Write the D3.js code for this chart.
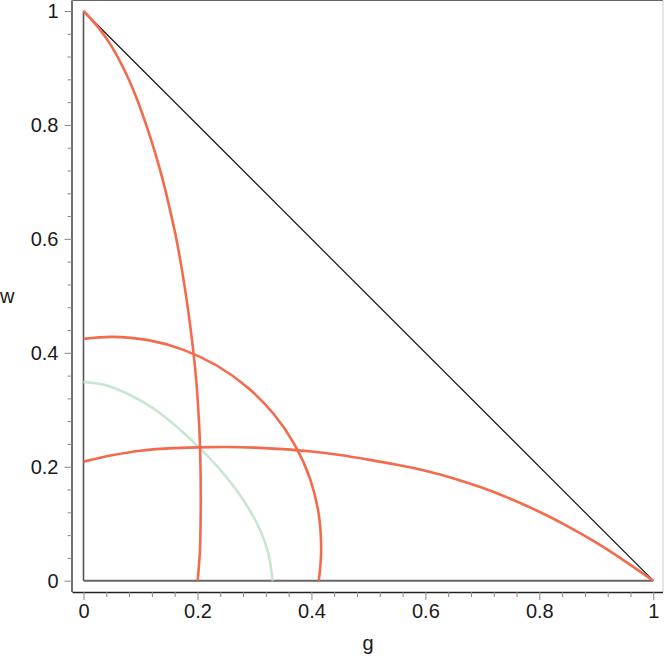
<!DOCTYPE html>
<html>
<head>
<meta charset="utf-8">
<script src="https://cdn.jsdelivr.net/npm/d3@7"></script>
<style>
html,body{margin:0;padding:0;background:#fff;}
svg{display:block;}
text{font-family:"Liberation Sans",Arial,Helvetica,sans-serif;fill:#1a1a1a;}
</style>
</head>
<body>
<svg id="chart" width="664" height="657"></svg>
<script>
// ---- data ----
const xTicks = [0, 0.2, 0.4, 0.6, 0.8, 1];
const yTicks = [0, 0.2, 0.4, 0.6, 0.8, 1];
const tickLabels = ["0", "0.2", "0.4", "0.6", "0.8", "1"];
const xLabel = "g";
const yLabel = "w";

// curve A: from (0,1) down to (0.2,0)   [g, w]
const curveA = [[0,1],[0.027,0.97],[0.048,0.94],[0.070,0.90],[0.092,0.85],[0.110,0.80],
  [0.126,0.75],[0.140,0.70],[0.152,0.65],[0.163,0.60],[0.172,0.55],[0.180,0.50],[0.187,0.45],
  [0.193,0.40],[0.198,0.35],[0.2015,0.30],[0.204,0.25],[0.2053,0.20],[0.2058,0.15],
  [0.2055,0.10],[0.2042,0.05],[0.2004,0]];
// curve B: arc from (0,0.425) to (0.413,0)
const curveB = [[0,0.4245],[0.05,0.428],[0.1137,0.4223],[0.1755,0.4052],[0.2345,0.3773],
  [0.2875,0.3396],[0.3335,0.293],[0.3705,0.239],[0.3975,0.1793],[0.4130,0.1156],
  [0.4170,0.05],[0.4130,0]];
// curve C: from (0,0.209) to (1,0)
const curveC = [[0,0.209],[0.05,0.2202],[0.10,0.2282],[0.15,0.2322],[0.20,0.2340],[0.25,0.2346],
  [0.30,0.2336],[0.35,0.2310],[0.40,0.2268],[0.45,0.2205],[0.50,0.2125],[0.55,0.2035],
  [0.60,0.1930],[0.65,0.1795],[0.70,0.1630],[0.75,0.1435],[0.80,0.1210],[0.85,0.0955],
  [0.90,0.0668],[0.95,0.0345],[1,0]];
// curve D (green): from (0,0.349) to (0.332,0)
const curveD = [[0,0.349],[0.0377,0.3435],[0.0816,0.326],[0.1225,0.3026],[0.1636,0.2703],
  [0.2045,0.2324],[0.2454,0.1885],[0.2805,0.1417],[0.31,0.089],[0.3243,0.048],[0.332,0]];

const redCurves = [curveA, curveB, curveC];
const greenCurves = [curveD];

// ---- drawing ----
const svg = d3.select("#chart");
const x = d3.scaleLinear().domain([0,1]).range([83.5,653.3]);
const y = d3.scaleLinear().domain([0,1]).range([580.7,11]);

const frame = {left:72.5, right:663, top:0.5, bottom:592};

// frame
svg.append("line").attr("x1",frame.left).attr("x2",frame.right).attr("y1",frame.top).attr("y2",frame.top)
  .attr("stroke","#666").attr("stroke-width",1);
svg.append("line").attr("x1",frame.right).attr("x2",frame.right).attr("y1",frame.top).attr("y2",frame.bottom)
  .attr("stroke","#ccc").attr("stroke-width",1);

// axes
const minor = d3.range(0,1.0001,0.04).filter(v=>Math.abs(v*5-Math.round(v*5))>1e-6);
const xAxis = d3.axisBottom(x).tickValues(xTicks).tickSize(8).tickPadding(4)
  .tickFormat((d,i)=>tickLabels[i]);
const gx = svg.append("g").attr("transform",`translate(0,${frame.bottom})`).call(xAxis);
gx.select(".domain").attr("d",`M${frame.left},0.5H${frame.right}`).attr("stroke","#222").attr("stroke-width",1.3);
gx.selectAll(".tick line").attr("stroke","#888");
gx.selectAll(".tick text").attr("font-size",20).attr("fill","#1a1a1a").attr("font-family","Liberation Sans, Arial, sans-serif");
const gxm = svg.append("g").attr("transform",`translate(0,${frame.bottom})`)
  .call(d3.axisBottom(x).tickValues(minor).tickSize(5).tickFormat(""));
gxm.select(".domain").remove();
gxm.selectAll(".tick line").attr("stroke","#888");

const yAxis = d3.axisLeft(y).tickValues(yTicks).tickSize(8).tickPadding(6)
  .tickFormat((d,i)=>tickLabels[i]);
const gy = svg.append("g").attr("transform",`translate(${frame.left},0)`).call(yAxis);
gy.select(".domain").attr("d",`M-0.5,${frame.top}V${frame.bottom}`).attr("stroke","#222").attr("stroke-width",1.3);
gy.selectAll(".tick line").attr("stroke","#888");
gy.selectAll(".tick text").attr("font-size",20).attr("fill","#1a1a1a").attr("font-family","Liberation Sans, Arial, sans-serif");
const gym = svg.append("g").attr("transform",`translate(${frame.left},0)`)
  .call(d3.axisLeft(y).tickValues(minor).tickSize(5).tickFormat(""));
gym.select(".domain").remove();
gym.selectAll(".tick line").attr("stroke","#888");

// axis titles
svg.append("text").attr("x",368).attr("y",650).attr("text-anchor","middle").attr("font-size",20).text(xLabel);
svg.append("text").attr("x",0).attr("y",303).attr("text-anchor","start").attr("font-size",20).text(yLabel);

const smooth = d3.line().x(d=>x(d[0])).y(d=>y(d[1])).curve(d3.curveCatmullRom.alpha(0.5));

// triangle sides
svg.append("line").attr("x1",x(0)).attr("y1",y(0)).attr("x2",x(0)).attr("y2",y(1))
  .attr("stroke","#555").attr("stroke-width",1.6);
svg.append("line").attr("x1",x(0)).attr("y1",y(0)).attr("x2",x(1)).attr("y2",y(0))
  .attr("stroke","#666").attr("stroke-width",2);
svg.append("line").attr("x1",x(0)).attr("y1",y(1)).attr("x2",x(1)).attr("y2",y(0))
  .attr("stroke","#111").attr("stroke-width",1.2);

// curves
svg.selectAll(".green").data(greenCurves).enter().append("path")
  .attr("d",smooth).attr("fill","none").attr("stroke","#c8e6d2").attr("stroke-width",2.6);
svg.selectAll(".red").data(redCurves).enter().append("path")
  .attr("d",smooth).attr("fill","none").attr("stroke","#f36a4c").attr("stroke-width",2.6);
</script>
</body>
</html>
